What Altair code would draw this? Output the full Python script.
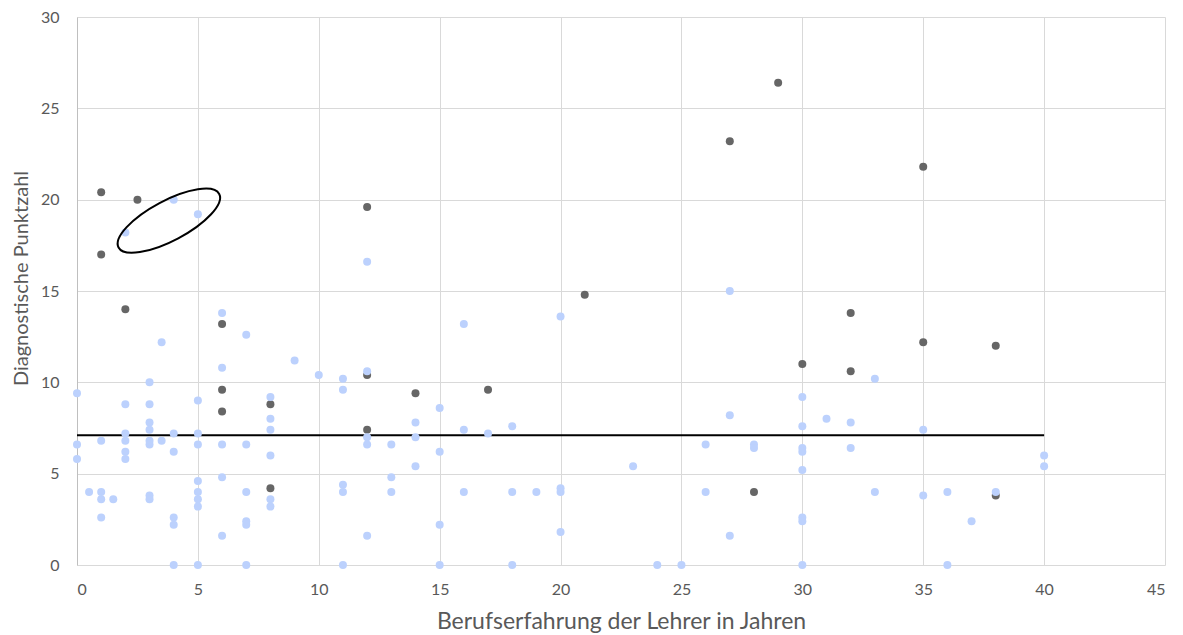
import altair as alt
import pandas as pd

# Light-blue series (x = years of experience, y = diagnostic score)
light_x = [0, 0, 0, 0.5, 1, 1, 1, 1, 1.5,
           2, 2, 2, 2, 2, 2,
           3, 3, 3, 3, 3, 3, 3, 3,
           3.5, 3.5,
           4, 4, 4, 4, 4, 4,
           5, 5, 5, 5, 5, 5, 5, 5, 5,
           6, 6, 6, 6, 6,
           7, 7, 7, 7, 7, 7,
           8, 8, 8, 8, 8, 8,
           9, 10,
           11, 11, 11, 11, 11,
           12, 12, 12, 12, 12,
           13, 13, 13,
           14, 14, 14,
           15, 15, 15, 15,
           16, 16, 16,
           17,
           18, 18, 18,
           19,
           20, 20, 20, 20,
           23, 24, 25,
           26, 26,
           27, 27, 27,
           28, 28,
           30, 30, 30, 30, 30, 30, 30, 30,
           31,
           32, 32,
           33, 33,
           35, 35,
           36, 36,
           37, 38,
           40, 40]
light_y = [9.4, 6.6, 5.8, 4.0, 6.8, 4.0, 3.6, 2.6, 3.6,
           18.2, 8.8, 7.2, 6.8, 6.2, 5.8,
           10.0, 8.8, 7.8, 7.4, 6.8, 6.6, 3.8, 3.6,
           12.2, 6.8,
           20.0, 7.2, 6.2, 2.6, 2.2, 0.0,
           19.2, 9.0, 7.2, 6.6, 4.6, 4.0, 3.6, 3.2, 0.0,
           13.8, 10.8, 6.6, 4.8, 1.6,
           12.6, 6.6, 4.0, 2.4, 2.2, 0.0,
           9.2, 8.0, 7.4, 6.0, 3.6, 3.2,
           11.2, 10.4,
           10.2, 9.6, 4.4, 4.0, 0.0,
           16.6, 10.6, 7.0, 6.6, 1.6,
           6.6, 4.8, 4.0,
           7.8, 7.0, 5.4,
           8.6, 6.2, 2.2, 0.0,
           13.2, 7.4, 4.0,
           7.2,
           7.6, 4.0, 0.0,
           4.0,
           13.6, 4.2, 4.0, 1.8,
           5.4, 0.0, 0.0,
           6.6, 4.0,
           15.0, 8.2, 1.6,
           6.6, 6.4,
           9.2, 7.6, 6.4, 6.2, 5.2, 2.6, 2.4, 0.0,
           8.0,
           7.8, 6.4,
           10.2, 4.0,
           7.4, 3.8,
           4.0, 0.0,
           2.4, 4.0,
           6.0, 5.4]

# Dark-grey series
dark_x = [1, 2.5, 1, 2, 6, 6, 6, 8, 8, 12, 12, 12, 14, 17, 21,
          27, 29, 28, 30, 32, 32, 35, 35, 38, 38]
dark_y = [20.4, 20.0, 17.0, 14.0, 13.2, 9.6, 8.4, 8.8, 4.2, 19.6, 10.4, 7.4, 9.4, 9.6, 14.8,
          23.2, 26.4, 4.0, 11.0, 13.8, 10.6, 21.8, 12.2, 12.0, 3.8]

# Horizontal reference line (mean)
line_x = [0]
line_x2 = [40]
line_y = [7.1]

# Ellipse annotation centre
ellipse_x = [3.8]
ellipse_y = [18.85]

x_ticks = list(range(0, 46, 5))
y_ticks = list(range(0, 31, 5))

light_df = pd.DataFrame({"x": light_x, "y": light_y})
dark_df = pd.DataFrame({"x": dark_x, "y": dark_y})
line_df = pd.DataFrame({"x": line_x, "x2": line_x2, "y": line_y})
ell_df = pd.DataFrame({"x": ellipse_x, "y": ellipse_y})

FONT = "Lato"

x_enc = alt.X("x:Q",
              scale=alt.Scale(domain=[0, 45], nice=False, zero=False),
              axis=alt.Axis(values=x_ticks, title="Berufserfahrung der Lehrer in Jahren",
                            domain=False, ticks=False, tickSize=0, labelPadding=16,
                            titleFontSize=23, titleBaseline="alphabetic", titleY=63))
y_enc = alt.Y("y:Q",
              scale=alt.Scale(domain=[0, 30], nice=False, zero=False),
              axis=alt.Axis(values=y_ticks, title="Diagnostische Punktzahl",
                            domain=True, domainColor="#bfbfbf", ticks=False, tickSize=0,
                            labelPadding=18, titleFontSize=20, titleAngle=270,
                            titleAlign="center", titleBaseline="bottom",
                            titleX=-46, titleY=261))

dark = alt.Chart(dark_df).mark_circle(size=64, color="#666666", opacity=1).encode(x=x_enc, y=y_enc)
light = alt.Chart(light_df).mark_circle(size=64, color="#bcd1fd", opacity=1).encode(x=x_enc, y=y_enc)
rule = alt.Chart(line_df).mark_rule(color="black", strokeWidth=2).encode(x=x_enc, x2="x2:Q", y=y_enc)
ellipse = alt.Chart(ell_df).mark_point(
    shape="M -1 0 A 1 0.35 0 1 1 1 0 A 1 0.35 0 1 1 -1 0 Z",
    size=114 * 114, angle=332, filled=False, stroke="black", strokeWidth=2, opacity=1
).encode(x=x_enc, y=y_enc)

chart = alt.layer(rule, dark, light, ellipse).properties(
    width=1088, height=548,
    autosize=alt.AutoSizeParams(type="none"),
    padding={"left": 69, "top": 9, "right": 10, "bottom": 68},
).configure_view(stroke=None).configure_axis(
    gridColor="#d9d9d9", gridWidth=1,
    labelFont=FONT, labelFontSize=16, labelColor="#595959",
    titleFont=FONT, titleColor="#595959", titleFontWeight="normal",
)

chart.save("out.html", embed_options={"renderer": "svg", "actions": False})
